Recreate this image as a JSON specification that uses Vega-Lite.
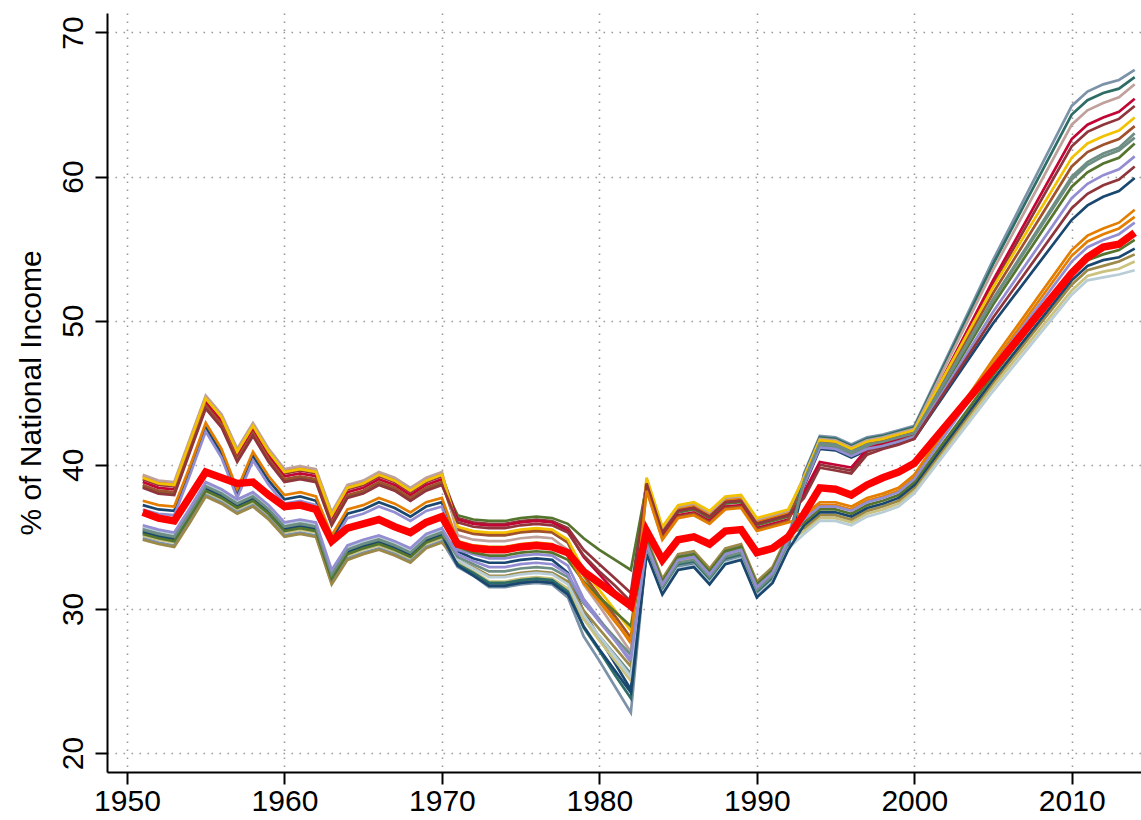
{
  "$schema": "https://vega.github.io/schema/vega-lite/v6.json",
  "width": 1034,
  "height": 759,
  "autosize": "none",
  "padding": {"left": 107, "top": 13, "right": 0, "bottom": 48},
  "background": "white",
  "config": {"view": {"stroke": null}, "font": "Liberation Sans"},
  "data": {"values": [
{"s":"s1","x":1951,"v":37.2},{"s":"s1","x":1952,"v":36.9},{"s":"s1","x":1953,"v":36.8},{"s":"s1","x":1954,"v":39.6},{"s":"s1","x":1955,"v":42.6},{"s":"s1","x":1956,"v":40.8},{"s":"s1","x":1957,"v":38.0},{"s":"s1","x":1958,"v":40.6},{"s":"s1","x":1959,"v":38.9},{"s":"s1","x":1960,"v":37.6},{"s":"s1","x":1961,"v":37.8},{"s":"s1","x":1962,"v":37.5},{"s":"s1","x":1963,"v":34.8},{"s":"s1","x":1964,"v":36.6},{"s":"s1","x":1965,"v":36.9},{"s":"s1","x":1966,"v":37.4},{"s":"s1","x":1967,"v":37.0},{"s":"s1","x":1968,"v":36.4},{"s":"s1","x":1969,"v":37.1},{"s":"s1","x":1970,"v":37.4},
{"s":"s1","x":1971,"v":34.0},{"s":"s1","x":1972,"v":33.5},{"s":"s1","x":1973,"v":33.2},{"s":"s1","x":1974,"v":33.2},{"s":"s1","x":1975,"v":33.4},{"s":"s1","x":1976,"v":33.5},{"s":"s1","x":1977,"v":33.4},{"s":"s1","x":1978,"v":32.5},{"s":"s1","x":1979,"v":29.8},{"s":"s1","x":1980,"v":28.0},{"s":"s1","x":1981,"v":26.2},{"s":"s1","x":1982,"v":24.4},
{"s":"s1","x":1983,"v":34.0},{"s":"s1","x":1984,"v":31.2},{"s":"s1","x":1985,"v":32.9},{"s":"s1","x":1986,"v":33.1},{"s":"s1","x":1987,"v":31.9},{"s":"s1","x":1988,"v":33.3},{"s":"s1","x":1989,"v":33.6},{"s":"s1","x":1990,"v":31.0},{"s":"s1","x":1991,"v":32.0},{"s":"s1","x":1992,"v":34.3},
{"s":"s1","x":1993,"v":38.5},{"s":"s1","x":1994,"v":41.1},{"s":"s1","x":1995,"v":41.0},{"s":"s1","x":1996,"v":40.5},{"s":"s1","x":1997,"v":41.0},{"s":"s1","x":1998,"v":41.2},{"s":"s1","x":1999,"v":41.5},{"s":"s1","x":2000,"v":41.8},
{"s":"s1","x":2005,"v":49.8},{"s":"s1","x":2010,"v":57.0},{"s":"s1","x":2011,"v":58.0},{"s":"s1","x":2012,"v":58.6},{"s":"s1","x":2013,"v":59.0},{"s":"s1","x":2014,"v":59.9},

{"s":"s2","x":1951,"v":39.0},{"s":"s2","x":1952,"v":38.6},{"s":"s2","x":1953,"v":38.5},{"s":"s2","x":1954,"v":41.5},{"s":"s2","x":1955,"v":44.5},{"s":"s2","x":1956,"v":43.2},{"s":"s2","x":1957,"v":40.8},{"s":"s2","x":1958,"v":42.6},{"s":"s2","x":1959,"v":40.8},{"s":"s2","x":1960,"v":39.4},{"s":"s2","x":1961,"v":39.6},{"s":"s2","x":1962,"v":39.4},{"s":"s2","x":1963,"v":36.4},{"s":"s2","x":1964,"v":38.3},{"s":"s2","x":1965,"v":38.6},{"s":"s2","x":1966,"v":39.2},{"s":"s2","x":1967,"v":38.8},{"s":"s2","x":1968,"v":38.1},{"s":"s2","x":1969,"v":38.8},{"s":"s2","x":1970,"v":39.2},
{"s":"s2","x":1971,"v":36.3},{"s":"s2","x":1972,"v":36.0},{"s":"s2","x":1973,"v":35.9},{"s":"s2","x":1974,"v":35.9},{"s":"s2","x":1975,"v":36.1},{"s":"s2","x":1976,"v":36.2},{"s":"s2","x":1977,"v":36.1},{"s":"s2","x":1978,"v":35.6},{"s":"s2","x":1979,"v":34.1},{"s":"s2","x":1980,"v":33.1},{"s":"s2","x":1981,"v":32.1},{"s":"s2","x":1982,"v":31.1},
{"s":"s2","x":1983,"v":38.8},{"s":"s2","x":1984,"v":35.4},{"s":"s2","x":1985,"v":36.9},{"s":"s2","x":1986,"v":37.1},{"s":"s2","x":1987,"v":36.5},{"s":"s2","x":1988,"v":37.5},{"s":"s2","x":1989,"v":37.6},{"s":"s2","x":1990,"v":36.0},{"s":"s2","x":1991,"v":36.3},{"s":"s2","x":1992,"v":36.6},
{"s":"s2","x":1993,"v":37.9},{"s":"s2","x":1994,"v":40.0},{"s":"s2","x":1995,"v":39.8},{"s":"s2","x":1996,"v":39.6},{"s":"s2","x":1997,"v":40.9},{"s":"s2","x":1998,"v":41.3},{"s":"s2","x":1999,"v":41.6},{"s":"s2","x":2000,"v":42.0},
{"s":"s2","x":2005,"v":52.5},{"s":"s2","x":2010,"v":62.1},{"s":"s2","x":2011,"v":63.1},{"s":"s2","x":2012,"v":63.6},{"s":"s2","x":2013,"v":64.0},{"s":"s2","x":2014,"v":64.9},

{"s":"s3","x":1951,"v":38.5},{"s":"s3","x":1952,"v":38.1},{"s":"s3","x":1953,"v":38.0},{"s":"s3","x":1954,"v":41.0},{"s":"s3","x":1955,"v":44.0},{"s":"s3","x":1956,"v":42.7},{"s":"s3","x":1957,"v":40.3},{"s":"s3","x":1958,"v":42.1},{"s":"s3","x":1959,"v":40.3},{"s":"s3","x":1960,"v":38.9},{"s":"s3","x":1961,"v":39.1},{"s":"s3","x":1962,"v":38.9},{"s":"s3","x":1963,"v":35.9},{"s":"s3","x":1964,"v":37.8},{"s":"s3","x":1965,"v":38.1},{"s":"s3","x":1966,"v":38.7},{"s":"s3","x":1967,"v":38.3},{"s":"s3","x":1968,"v":37.6},{"s":"s3","x":1969,"v":38.3},{"s":"s3","x":1970,"v":38.7},
{"s":"s3","x":1971,"v":36.5},{"s":"s3","x":1972,"v":36.2},{"s":"s3","x":1973,"v":36.1},{"s":"s3","x":1974,"v":36.1},{"s":"s3","x":1975,"v":36.3},{"s":"s3","x":1976,"v":36.4},{"s":"s3","x":1977,"v":36.3},{"s":"s3","x":1978,"v":35.9},{"s":"s3","x":1979,"v":34.9},{"s":"s3","x":1980,"v":34.1},{"s":"s3","x":1981,"v":33.4},{"s":"s3","x":1982,"v":32.7},
{"s":"s3","x":1983,"v":38.6},{"s":"s3","x":1984,"v":35.2},{"s":"s3","x":1985,"v":36.7},{"s":"s3","x":1986,"v":36.9},{"s":"s3","x":1987,"v":36.3},{"s":"s3","x":1988,"v":37.3},{"s":"s3","x":1989,"v":37.4},{"s":"s3","x":1990,"v":35.8},{"s":"s3","x":1991,"v":36.1},{"s":"s3","x":1992,"v":36.4},
{"s":"s3","x":1993,"v":38.7},{"s":"s3","x":1994,"v":41.3},{"s":"s3","x":1995,"v":41.2},{"s":"s3","x":1996,"v":40.7},{"s":"s3","x":1997,"v":41.2},{"s":"s3","x":1998,"v":41.4},{"s":"s3","x":1999,"v":41.7},{"s":"s3","x":2000,"v":42.0},
{"s":"s3","x":2005,"v":51.1},{"s":"s3","x":2010,"v":59.3},{"s":"s3","x":2011,"v":60.3},{"s":"s3","x":2012,"v":60.9},{"s":"s3","x":2013,"v":61.3},{"s":"s3","x":2014,"v":62.3},

{"s":"s4","x":1951,"v":39.2},{"s":"s4","x":1952,"v":38.8},{"s":"s4","x":1953,"v":38.7},{"s":"s4","x":1954,"v":41.7},{"s":"s4","x":1955,"v":44.7},{"s":"s4","x":1956,"v":43.4},{"s":"s4","x":1957,"v":41.0},{"s":"s4","x":1958,"v":42.8},{"s":"s4","x":1959,"v":41.0},{"s":"s4","x":1960,"v":39.6},{"s":"s4","x":1961,"v":39.8},{"s":"s4","x":1962,"v":39.6},{"s":"s4","x":1963,"v":36.6},{"s":"s4","x":1964,"v":38.5},{"s":"s4","x":1965,"v":38.8},{"s":"s4","x":1966,"v":39.4},{"s":"s4","x":1967,"v":39.0},{"s":"s4","x":1968,"v":38.3},{"s":"s4","x":1969,"v":39.0},{"s":"s4","x":1970,"v":39.4},
{"s":"s4","x":1971,"v":35.6},{"s":"s4","x":1972,"v":35.3},{"s":"s4","x":1973,"v":35.2},{"s":"s4","x":1974,"v":35.2},{"s":"s4","x":1975,"v":35.4},{"s":"s4","x":1976,"v":35.5},{"s":"s4","x":1977,"v":35.4},{"s":"s4","x":1978,"v":34.6},{"s":"s4","x":1979,"v":32.3},{"s":"s4","x":1980,"v":30.7},{"s":"s4","x":1981,"v":29.2},{"s":"s4","x":1982,"v":27.6},
{"s":"s4","x":1983,"v":38.9},{"s":"s4","x":1984,"v":35.5},{"s":"s4","x":1985,"v":37.0},{"s":"s4","x":1986,"v":37.2},{"s":"s4","x":1987,"v":36.6},{"s":"s4","x":1988,"v":37.6},{"s":"s4","x":1989,"v":37.7},{"s":"s4","x":1990,"v":36.1},{"s":"s4","x":1991,"v":36.4},{"s":"s4","x":1992,"v":36.7},
{"s":"s4","x":1993,"v":36.5},{"s":"s4","x":1994,"v":37.4},{"s":"s4","x":1995,"v":37.4},{"s":"s4","x":1996,"v":37.1},{"s":"s4","x":1997,"v":37.7},{"s":"s4","x":1998,"v":38.0},{"s":"s4","x":1999,"v":38.4},{"s":"s4","x":2000,"v":39.3},
{"s":"s4","x":2005,"v":47.3},{"s":"s4","x":2010,"v":54.9},{"s":"s4","x":2011,"v":55.9},{"s":"s4","x":2012,"v":56.4},{"s":"s4","x":2013,"v":56.8},{"s":"s4","x":2014,"v":57.7},

{"s":"s5","x":1951,"v":35.6},{"s":"s5","x":1952,"v":35.3},{"s":"s5","x":1953,"v":35.1},{"s":"s5","x":1954,"v":36.8},{"s":"s5","x":1955,"v":38.6},{"s":"s5","x":1956,"v":38.1},{"s":"s5","x":1957,"v":37.4},{"s":"s5","x":1958,"v":37.9},{"s":"s5","x":1959,"v":37.0},{"s":"s5","x":1960,"v":35.8},{"s":"s5","x":1961,"v":36.0},{"s":"s5","x":1962,"v":35.8},{"s":"s5","x":1963,"v":32.5},{"s":"s5","x":1964,"v":34.2},{"s":"s5","x":1965,"v":34.6},{"s":"s5","x":1966,"v":34.9},{"s":"s5","x":1967,"v":34.5},{"s":"s5","x":1968,"v":34.0},{"s":"s5","x":1969,"v":35.0},{"s":"s5","x":1970,"v":35.4},
{"s":"s5","x":1971,"v":33.1},{"s":"s5","x":1972,"v":32.4},{"s":"s5","x":1973,"v":31.7},{"s":"s5","x":1974,"v":31.7},{"s":"s5","x":1975,"v":31.9},{"s":"s5","x":1976,"v":32.0},{"s":"s5","x":1977,"v":31.9},{"s":"s5","x":1978,"v":31.3},{"s":"s5","x":1979,"v":29.3},{"s":"s5","x":1980,"v":28.1},{"s":"s5","x":1981,"v":26.8},{"s":"s5","x":1982,"v":25.5},
{"s":"s5","x":1983,"v":34.6},{"s":"s5","x":1984,"v":31.8},{"s":"s5","x":1985,"v":33.5},{"s":"s5","x":1986,"v":33.7},{"s":"s5","x":1987,"v":32.5},{"s":"s5","x":1988,"v":33.9},{"s":"s5","x":1989,"v":34.2},{"s":"s5","x":1990,"v":31.6},{"s":"s5","x":1991,"v":32.6},{"s":"s5","x":1992,"v":34.9},
{"s":"s5","x":1993,"v":38.8},{"s":"s5","x":1994,"v":41.4},{"s":"s5","x":1995,"v":41.3},{"s":"s5","x":1996,"v":40.8},{"s":"s5","x":1997,"v":41.3},{"s":"s5","x":1998,"v":41.5},{"s":"s5","x":1999,"v":41.8},{"s":"s5","x":2000,"v":42.1},
{"s":"s5","x":2005,"v":51.4},{"s":"s5","x":2010,"v":59.8},{"s":"s5","x":2011,"v":60.8},{"s":"s5","x":2012,"v":61.4},{"s":"s5","x":2013,"v":61.8},{"s":"s5","x":2014,"v":62.7},

{"s":"s6","x":1951,"v":38.8},{"s":"s6","x":1952,"v":38.4},{"s":"s6","x":1953,"v":38.3},{"s":"s6","x":1954,"v":41.3},{"s":"s6","x":1955,"v":44.3},{"s":"s6","x":1956,"v":43.0},{"s":"s6","x":1957,"v":40.6},{"s":"s6","x":1958,"v":42.4},{"s":"s6","x":1959,"v":40.6},{"s":"s6","x":1960,"v":39.2},{"s":"s6","x":1961,"v":39.4},{"s":"s6","x":1962,"v":39.2},{"s":"s6","x":1963,"v":36.2},{"s":"s6","x":1964,"v":38.1},{"s":"s6","x":1965,"v":38.4},{"s":"s6","x":1966,"v":39.0},{"s":"s6","x":1967,"v":38.6},{"s":"s6","x":1968,"v":37.9},{"s":"s6","x":1969,"v":38.6},{"s":"s6","x":1970,"v":39.0},
{"s":"s6","x":1971,"v":36.2},{"s":"s6","x":1972,"v":35.9},{"s":"s6","x":1973,"v":35.8},{"s":"s6","x":1974,"v":35.8},{"s":"s6","x":1975,"v":36.0},{"s":"s6","x":1976,"v":36.1},{"s":"s6","x":1977,"v":36.0},{"s":"s6","x":1978,"v":35.4},{"s":"s6","x":1979,"v":33.6},{"s":"s6","x":1980,"v":32.4},{"s":"s6","x":1981,"v":31.2},{"s":"s6","x":1982,"v":30.0},
{"s":"s6","x":1983,"v":38.4},{"s":"s6","x":1984,"v":35.0},{"s":"s6","x":1985,"v":36.5},{"s":"s6","x":1986,"v":36.7},{"s":"s6","x":1987,"v":36.1},{"s":"s6","x":1988,"v":37.1},{"s":"s6","x":1989,"v":37.2},{"s":"s6","x":1990,"v":35.6},{"s":"s6","x":1991,"v":35.9},{"s":"s6","x":1992,"v":36.2},
{"s":"s6","x":1993,"v":38.1},{"s":"s6","x":1994,"v":40.2},{"s":"s6","x":1995,"v":40.0},{"s":"s6","x":1996,"v":39.8},{"s":"s6","x":1997,"v":41.1},{"s":"s6","x":1998,"v":41.5},{"s":"s6","x":1999,"v":41.8},{"s":"s6","x":2000,"v":42.2},
{"s":"s6","x":2005,"v":52.8},{"s":"s6","x":2010,"v":62.6},{"s":"s6","x":2011,"v":63.6},{"s":"s6","x":2012,"v":64.1},{"s":"s6","x":2013,"v":64.5},{"s":"s6","x":2014,"v":65.4},

{"s":"s7","x":1951,"v":36.9},{"s":"s7","x":1952,"v":36.6},{"s":"s7","x":1953,"v":36.5},{"s":"s7","x":1954,"v":39.3},{"s":"s7","x":1955,"v":42.3},{"s":"s7","x":1956,"v":40.5},{"s":"s7","x":1957,"v":37.7},{"s":"s7","x":1958,"v":40.3},{"s":"s7","x":1959,"v":38.6},{"s":"s7","x":1960,"v":37.3},{"s":"s7","x":1961,"v":37.5},{"s":"s7","x":1962,"v":37.2},{"s":"s7","x":1963,"v":34.5},{"s":"s7","x":1964,"v":36.3},{"s":"s7","x":1965,"v":36.6},{"s":"s7","x":1966,"v":37.1},{"s":"s7","x":1967,"v":36.7},{"s":"s7","x":1968,"v":36.1},{"s":"s7","x":1969,"v":36.8},{"s":"s7","x":1970,"v":37.1},
{"s":"s7","x":1971,"v":34.1},{"s":"s7","x":1972,"v":33.8},{"s":"s7","x":1973,"v":33.5},{"s":"s7","x":1974,"v":33.5},{"s":"s7","x":1975,"v":33.7},{"s":"s7","x":1976,"v":33.8},{"s":"s7","x":1977,"v":33.7},{"s":"s7","x":1978,"v":33.0},{"s":"s7","x":1979,"v":30.7},{"s":"s7","x":1980,"v":29.3},{"s":"s7","x":1981,"v":27.8},{"s":"s7","x":1982,"v":26.3},
{"s":"s7","x":1983,"v":34.8},{"s":"s7","x":1984,"v":32.0},{"s":"s7","x":1985,"v":33.7},{"s":"s7","x":1986,"v":33.9},{"s":"s7","x":1987,"v":32.7},{"s":"s7","x":1988,"v":34.1},{"s":"s7","x":1989,"v":34.4},{"s":"s7","x":1990,"v":31.8},{"s":"s7","x":1991,"v":32.8},{"s":"s7","x":1992,"v":35.1},
{"s":"s7","x":1993,"v":38.6},{"s":"s7","x":1994,"v":41.2},{"s":"s7","x":1995,"v":41.1},{"s":"s7","x":1996,"v":40.6},{"s":"s7","x":1997,"v":41.1},{"s":"s7","x":1998,"v":41.3},{"s":"s7","x":1999,"v":41.6},{"s":"s7","x":2000,"v":41.9},
{"s":"s7","x":2005,"v":50.6},{"s":"s7","x":2010,"v":58.5},{"s":"s7","x":2011,"v":59.5},{"s":"s7","x":2012,"v":60.1},{"s":"s7","x":2013,"v":60.5},{"s":"s7","x":2014,"v":61.4},

{"s":"s8","x":1951,"v":35.1},{"s":"s8","x":1952,"v":34.8},{"s":"s8","x":1953,"v":34.6},{"s":"s8","x":1954,"v":36.3},{"s":"s8","x":1955,"v":38.1},{"s":"s8","x":1956,"v":37.6},{"s":"s8","x":1957,"v":36.9},{"s":"s8","x":1958,"v":37.4},{"s":"s8","x":1959,"v":36.5},{"s":"s8","x":1960,"v":35.3},{"s":"s8","x":1961,"v":35.5},{"s":"s8","x":1962,"v":35.3},{"s":"s8","x":1963,"v":32.0},{"s":"s8","x":1964,"v":33.7},{"s":"s8","x":1965,"v":34.1},{"s":"s8","x":1966,"v":34.4},{"s":"s8","x":1967,"v":34.0},{"s":"s8","x":1968,"v":33.5},{"s":"s8","x":1969,"v":34.5},{"s":"s8","x":1970,"v":34.9},
{"s":"s8","x":1971,"v":33.2},{"s":"s8","x":1972,"v":32.6},{"s":"s8","x":1973,"v":31.9},{"s":"s8","x":1974,"v":31.9},{"s":"s8","x":1975,"v":32.1},{"s":"s8","x":1976,"v":32.2},{"s":"s8","x":1977,"v":32.1},{"s":"s8","x":1978,"v":31.4},{"s":"s8","x":1979,"v":29.3},{"s":"s8","x":1980,"v":27.8},{"s":"s8","x":1981,"v":26.4},{"s":"s8","x":1982,"v":25.0},
{"s":"s8","x":1983,"v":34.4},{"s":"s8","x":1984,"v":31.6},{"s":"s8","x":1985,"v":33.3},{"s":"s8","x":1986,"v":33.5},{"s":"s8","x":1987,"v":32.3},{"s":"s8","x":1988,"v":33.7},{"s":"s8","x":1989,"v":34.0},{"s":"s8","x":1990,"v":31.4},{"s":"s8","x":1991,"v":32.4},{"s":"s8","x":1992,"v":34.7},
{"s":"s8","x":1993,"v":35.4},{"s":"s8","x":1994,"v":36.3},{"s":"s8","x":1995,"v":36.3},{"s":"s8","x":1996,"v":36.0},{"s":"s8","x":1997,"v":36.6},{"s":"s8","x":1998,"v":36.9},{"s":"s8","x":1999,"v":37.3},{"s":"s8","x":2000,"v":38.2},
{"s":"s8","x":2005,"v":45.4},{"s":"s8","x":2010,"v":52.1},{"s":"s8","x":2011,"v":53.1},{"s":"s8","x":2012,"v":53.4},{"s":"s8","x":2013,"v":53.6},{"s":"s8","x":2014,"v":54.1},

{"s":"s9","x":1951,"v":38.6},{"s":"s9","x":1952,"v":38.2},{"s":"s9","x":1953,"v":38.1},{"s":"s9","x":1954,"v":41.1},{"s":"s9","x":1955,"v":44.1},{"s":"s9","x":1956,"v":42.8},{"s":"s9","x":1957,"v":40.4},{"s":"s9","x":1958,"v":42.2},{"s":"s9","x":1959,"v":40.4},{"s":"s9","x":1960,"v":39.0},{"s":"s9","x":1961,"v":39.2},{"s":"s9","x":1962,"v":39.0},{"s":"s9","x":1963,"v":36.0},{"s":"s9","x":1964,"v":37.9},{"s":"s9","x":1965,"v":38.2},{"s":"s9","x":1966,"v":38.8},{"s":"s9","x":1967,"v":38.4},{"s":"s9","x":1968,"v":37.7},{"s":"s9","x":1969,"v":38.4},{"s":"s9","x":1970,"v":38.8},
{"s":"s9","x":1971,"v":35.5},{"s":"s9","x":1972,"v":35.2},{"s":"s9","x":1973,"v":35.1},{"s":"s9","x":1974,"v":35.1},{"s":"s9","x":1975,"v":35.3},{"s":"s9","x":1976,"v":35.4},{"s":"s9","x":1977,"v":35.3},{"s":"s9","x":1978,"v":34.6},{"s":"s9","x":1979,"v":32.4},{"s":"s9","x":1980,"v":30.9},{"s":"s9","x":1981,"v":29.5},{"s":"s9","x":1982,"v":28.0},
{"s":"s9","x":1983,"v":38.3},{"s":"s9","x":1984,"v":34.9},{"s":"s9","x":1985,"v":36.4},{"s":"s9","x":1986,"v":36.6},{"s":"s9","x":1987,"v":36.0},{"s":"s9","x":1988,"v":37.0},{"s":"s9","x":1989,"v":37.1},{"s":"s9","x":1990,"v":35.5},{"s":"s9","x":1991,"v":35.8},{"s":"s9","x":1992,"v":36.1},
{"s":"s9","x":1993,"v":39.0},{"s":"s9","x":1994,"v":41.6},{"s":"s9","x":1995,"v":41.5},{"s":"s9","x":1996,"v":41.0},{"s":"s9","x":1997,"v":41.5},{"s":"s9","x":1998,"v":41.7},{"s":"s9","x":1999,"v":42.0},{"s":"s9","x":2000,"v":42.3},
{"s":"s9","x":2005,"v":51.9},{"s":"s9","x":2010,"v":60.7},{"s":"s9","x":2011,"v":61.7},{"s":"s9","x":2012,"v":62.2},{"s":"s9","x":2013,"v":62.6},{"s":"s9","x":2014,"v":63.5},

{"s":"s10","x":1951,"v":34.9},{"s":"s10","x":1952,"v":34.6},{"s":"s10","x":1953,"v":34.4},{"s":"s10","x":1954,"v":36.1},{"s":"s10","x":1955,"v":37.9},{"s":"s10","x":1956,"v":37.4},{"s":"s10","x":1957,"v":36.7},{"s":"s10","x":1958,"v":37.2},{"s":"s10","x":1959,"v":36.3},{"s":"s10","x":1960,"v":35.1},{"s":"s10","x":1961,"v":35.3},{"s":"s10","x":1962,"v":35.1},{"s":"s10","x":1963,"v":31.8},{"s":"s10","x":1964,"v":33.5},{"s":"s10","x":1965,"v":33.9},{"s":"s10","x":1966,"v":34.2},{"s":"s10","x":1967,"v":33.8},{"s":"s10","x":1968,"v":33.3},{"s":"s10","x":1969,"v":34.3},{"s":"s10","x":1970,"v":34.7},
{"s":"s10","x":1971,"v":32.9},{"s":"s10","x":1972,"v":32.3},{"s":"s10","x":1973,"v":31.5},{"s":"s10","x":1974,"v":31.5},{"s":"s10","x":1975,"v":31.7},{"s":"s10","x":1976,"v":31.8},{"s":"s10","x":1977,"v":31.7},{"s":"s10","x":1978,"v":30.8},{"s":"s10","x":1979,"v":28.1},{"s":"s10","x":1980,"v":26.4},{"s":"s10","x":1981,"v":24.6},{"s":"s10","x":1982,"v":22.8},
{"s":"s10","x":1983,"v":34.1},{"s":"s10","x":1984,"v":31.3},{"s":"s10","x":1985,"v":33.0},{"s":"s10","x":1986,"v":33.2},{"s":"s10","x":1987,"v":32.0},{"s":"s10","x":1988,"v":33.4},{"s":"s10","x":1989,"v":33.7},{"s":"s10","x":1990,"v":31.1},{"s":"s10","x":1991,"v":32.1},{"s":"s10","x":1992,"v":34.4},
{"s":"s10","x":1993,"v":39.4},{"s":"s10","x":1994,"v":42.0},{"s":"s10","x":1995,"v":41.9},{"s":"s10","x":1996,"v":41.4},{"s":"s10","x":1997,"v":41.9},{"s":"s10","x":1998,"v":42.1},{"s":"s10","x":1999,"v":42.4},{"s":"s10","x":2000,"v":42.7},
{"s":"s10","x":2005,"v":54.2},{"s":"s10","x":2010,"v":64.9},{"s":"s10","x":2011,"v":65.9},{"s":"s10","x":2012,"v":66.4},{"s":"s10","x":2013,"v":66.7},{"s":"s10","x":2014,"v":67.4},

{"s":"s11","x":1951,"v":35.4},{"s":"s11","x":1952,"v":35.1},{"s":"s11","x":1953,"v":34.9},{"s":"s11","x":1954,"v":36.6},{"s":"s11","x":1955,"v":38.4},{"s":"s11","x":1956,"v":37.9},{"s":"s11","x":1957,"v":37.2},{"s":"s11","x":1958,"v":37.7},{"s":"s11","x":1959,"v":36.8},{"s":"s11","x":1960,"v":35.6},{"s":"s11","x":1961,"v":35.8},{"s":"s11","x":1962,"v":35.6},{"s":"s11","x":1963,"v":32.3},{"s":"s11","x":1964,"v":34.0},{"s":"s11","x":1965,"v":34.4},{"s":"s11","x":1966,"v":34.7},{"s":"s11","x":1967,"v":34.3},{"s":"s11","x":1968,"v":33.8},{"s":"s11","x":1969,"v":34.8},{"s":"s11","x":1970,"v":35.2},
{"s":"s11","x":1971,"v":33.1},{"s":"s11","x":1972,"v":32.5},{"s":"s11","x":1973,"v":31.8},{"s":"s11","x":1974,"v":31.8},{"s":"s11","x":1975,"v":32.0},{"s":"s11","x":1976,"v":32.1},{"s":"s11","x":1977,"v":32.0},{"s":"s11","x":1978,"v":31.2},{"s":"s11","x":1979,"v":28.7},{"s":"s11","x":1980,"v":27.1},{"s":"s11","x":1981,"v":25.4},{"s":"s11","x":1982,"v":23.8},
{"s":"s11","x":1983,"v":34.2},{"s":"s11","x":1984,"v":31.4},{"s":"s11","x":1985,"v":33.1},{"s":"s11","x":1986,"v":33.3},{"s":"s11","x":1987,"v":32.1},{"s":"s11","x":1988,"v":33.5},{"s":"s11","x":1989,"v":33.8},{"s":"s11","x":1990,"v":31.2},{"s":"s11","x":1991,"v":32.2},{"s":"s11","x":1992,"v":34.5},
{"s":"s11","x":1993,"v":39.3},{"s":"s11","x":1994,"v":41.9},{"s":"s11","x":1995,"v":41.8},{"s":"s11","x":1996,"v":41.3},{"s":"s11","x":1997,"v":41.8},{"s":"s11","x":1998,"v":42.0},{"s":"s11","x":1999,"v":42.3},{"s":"s11","x":2000,"v":42.6},
{"s":"s11","x":2005,"v":53.9},{"s":"s11","x":2010,"v":64.3},{"s":"s11","x":2011,"v":65.3},{"s":"s11","x":2012,"v":65.8},{"s":"s11","x":2013,"v":66.1},{"s":"s11","x":2014,"v":66.9},

{"s":"s12","x":1951,"v":34.8},{"s":"s12","x":1952,"v":34.5},{"s":"s12","x":1953,"v":34.3},{"s":"s12","x":1954,"v":36.0},{"s":"s12","x":1955,"v":37.8},{"s":"s12","x":1956,"v":37.3},{"s":"s12","x":1957,"v":36.6},{"s":"s12","x":1958,"v":37.1},{"s":"s12","x":1959,"v":36.2},{"s":"s12","x":1960,"v":35.0},{"s":"s12","x":1961,"v":35.2},{"s":"s12","x":1962,"v":35.0},{"s":"s12","x":1963,"v":31.7},{"s":"s12","x":1964,"v":33.4},{"s":"s12","x":1965,"v":33.8},{"s":"s12","x":1966,"v":34.1},{"s":"s12","x":1967,"v":33.7},{"s":"s12","x":1968,"v":33.2},{"s":"s12","x":1969,"v":34.2},{"s":"s12","x":1970,"v":34.6},
{"s":"s12","x":1971,"v":33.4},{"s":"s12","x":1972,"v":32.9},{"s":"s12","x":1973,"v":32.3},{"s":"s12","x":1974,"v":32.3},{"s":"s12","x":1975,"v":32.5},{"s":"s12","x":1976,"v":32.6},{"s":"s12","x":1977,"v":32.5},{"s":"s12","x":1978,"v":31.9},{"s":"s12","x":1979,"v":29.9},{"s":"s12","x":1980,"v":28.6},{"s":"s12","x":1981,"v":27.3},{"s":"s12","x":1982,"v":26.0},
{"s":"s12","x":1983,"v":34.9},{"s":"s12","x":1984,"v":32.1},{"s":"s12","x":1985,"v":33.8},{"s":"s12","x":1986,"v":34.0},{"s":"s12","x":1987,"v":32.8},{"s":"s12","x":1988,"v":34.2},{"s":"s12","x":1989,"v":34.5},{"s":"s12","x":1990,"v":31.9},{"s":"s12","x":1991,"v":32.9},{"s":"s12","x":1992,"v":35.2},
{"s":"s12","x":1993,"v":35.6},{"s":"s12","x":1994,"v":36.5},{"s":"s12","x":1995,"v":36.5},{"s":"s12","x":1996,"v":36.2},{"s":"s12","x":1997,"v":36.8},{"s":"s12","x":1998,"v":37.1},{"s":"s12","x":1999,"v":37.5},{"s":"s12","x":2000,"v":38.4},
{"s":"s12","x":2005,"v":45.7},{"s":"s12","x":2010,"v":52.5},{"s":"s12","x":2011,"v":53.5},{"s":"s12","x":2012,"v":53.8},{"s":"s12","x":2013,"v":54.1},{"s":"s12","x":2014,"v":54.6},

{"s":"s13","x":1951,"v":39.3},{"s":"s13","x":1952,"v":38.9},{"s":"s13","x":1953,"v":38.8},{"s":"s13","x":1954,"v":41.8},{"s":"s13","x":1955,"v":44.8},{"s":"s13","x":1956,"v":43.5},{"s":"s13","x":1957,"v":41.1},{"s":"s13","x":1958,"v":42.9},{"s":"s13","x":1959,"v":41.1},{"s":"s13","x":1960,"v":39.7},{"s":"s13","x":1961,"v":39.9},{"s":"s13","x":1962,"v":39.7},{"s":"s13","x":1963,"v":36.7},{"s":"s13","x":1964,"v":38.6},{"s":"s13","x":1965,"v":38.9},{"s":"s13","x":1966,"v":39.5},{"s":"s13","x":1967,"v":39.1},{"s":"s13","x":1968,"v":38.4},{"s":"s13","x":1969,"v":39.1},{"s":"s13","x":1970,"v":39.5},
{"s":"s13","x":1971,"v":35.1},{"s":"s13","x":1972,"v":34.8},{"s":"s13","x":1973,"v":34.7},{"s":"s13","x":1974,"v":34.7},{"s":"s13","x":1975,"v":34.9},{"s":"s13","x":1976,"v":35.0},{"s":"s13","x":1977,"v":34.9},{"s":"s13","x":1978,"v":34.1},{"s":"s13","x":1979,"v":31.7},{"s":"s13","x":1980,"v":30.2},{"s":"s13","x":1981,"v":28.6},{"s":"s13","x":1982,"v":27.0},
{"s":"s13","x":1983,"v":39.0},{"s":"s13","x":1984,"v":35.6},{"s":"s13","x":1985,"v":37.1},{"s":"s13","x":1986,"v":37.3},{"s":"s13","x":1987,"v":36.7},{"s":"s13","x":1988,"v":37.7},{"s":"s13","x":1989,"v":37.8},{"s":"s13","x":1990,"v":36.2},{"s":"s13","x":1991,"v":36.5},{"s":"s13","x":1992,"v":36.8},
{"s":"s13","x":1993,"v":39.2},{"s":"s13","x":1994,"v":41.8},{"s":"s13","x":1995,"v":41.7},{"s":"s13","x":1996,"v":41.2},{"s":"s13","x":1997,"v":41.7},{"s":"s13","x":1998,"v":41.9},{"s":"s13","x":1999,"v":42.2},{"s":"s13","x":2000,"v":42.5},
{"s":"s13","x":2005,"v":53.5},{"s":"s13","x":2010,"v":63.6},{"s":"s13","x":2011,"v":64.6},{"s":"s13","x":2012,"v":65.1},{"s":"s13","x":2013,"v":65.5},{"s":"s13","x":2014,"v":66.4},

{"s":"s14","x":1951,"v":39.1},{"s":"s14","x":1952,"v":38.7},{"s":"s14","x":1953,"v":38.6},{"s":"s14","x":1954,"v":41.6},{"s":"s14","x":1955,"v":44.6},{"s":"s14","x":1956,"v":43.3},{"s":"s14","x":1957,"v":40.9},{"s":"s14","x":1958,"v":42.7},{"s":"s14","x":1959,"v":40.9},{"s":"s14","x":1960,"v":39.5},{"s":"s14","x":1961,"v":39.7},{"s":"s14","x":1962,"v":39.5},{"s":"s14","x":1963,"v":36.5},{"s":"s14","x":1964,"v":38.4},{"s":"s14","x":1965,"v":38.7},{"s":"s14","x":1966,"v":39.3},{"s":"s14","x":1967,"v":38.9},{"s":"s14","x":1968,"v":38.2},{"s":"s14","x":1969,"v":38.9},{"s":"s14","x":1970,"v":39.3},
{"s":"s14","x":1971,"v":35.7},{"s":"s14","x":1972,"v":35.4},{"s":"s14","x":1973,"v":35.3},{"s":"s14","x":1974,"v":35.3},{"s":"s14","x":1975,"v":35.5},{"s":"s14","x":1976,"v":35.6},{"s":"s14","x":1977,"v":35.5},{"s":"s14","x":1978,"v":34.8},{"s":"s14","x":1979,"v":32.7},{"s":"s14","x":1980,"v":31.3},{"s":"s14","x":1981,"v":29.9},{"s":"s14","x":1982,"v":28.5},
{"s":"s14","x":1983,"v":39.1},{"s":"s14","x":1984,"v":35.7},{"s":"s14","x":1985,"v":37.2},{"s":"s14","x":1986,"v":37.4},{"s":"s14","x":1987,"v":36.8},{"s":"s14","x":1988,"v":37.8},{"s":"s14","x":1989,"v":37.9},{"s":"s14","x":1990,"v":36.3},{"s":"s14","x":1991,"v":36.6},{"s":"s14","x":1992,"v":36.9},
{"s":"s14","x":1993,"v":39.1},{"s":"s14","x":1994,"v":41.7},{"s":"s14","x":1995,"v":41.6},{"s":"s14","x":1996,"v":41.1},{"s":"s14","x":1997,"v":41.6},{"s":"s14","x":1998,"v":41.8},{"s":"s14","x":1999,"v":42.1},{"s":"s14","x":2000,"v":42.4},
{"s":"s14","x":2005,"v":52.3},{"s":"s14","x":2010,"v":61.3},{"s":"s14","x":2011,"v":62.3},{"s":"s14","x":2012,"v":62.8},{"s":"s14","x":2013,"v":63.2},{"s":"s14","x":2014,"v":64.1},

{"s":"s15","x":1951,"v":35.7},{"s":"s15","x":1952,"v":35.4},{"s":"s15","x":1953,"v":35.2},{"s":"s15","x":1954,"v":36.9},{"s":"s15","x":1955,"v":38.7},{"s":"s15","x":1956,"v":38.2},{"s":"s15","x":1957,"v":37.5},{"s":"s15","x":1958,"v":38.0},{"s":"s15","x":1959,"v":37.1},{"s":"s15","x":1960,"v":35.9},{"s":"s15","x":1961,"v":36.1},{"s":"s15","x":1962,"v":35.9},{"s":"s15","x":1963,"v":32.6},{"s":"s15","x":1964,"v":34.3},{"s":"s15","x":1965,"v":34.7},{"s":"s15","x":1966,"v":35.0},{"s":"s15","x":1967,"v":34.6},{"s":"s15","x":1968,"v":34.1},{"s":"s15","x":1969,"v":35.1},{"s":"s15","x":1970,"v":35.5},
{"s":"s15","x":1971,"v":33.4},{"s":"s15","x":1972,"v":32.8},{"s":"s15","x":1973,"v":32.2},{"s":"s15","x":1974,"v":32.2},{"s":"s15","x":1975,"v":32.4},{"s":"s15","x":1976,"v":32.5},{"s":"s15","x":1977,"v":32.4},{"s":"s15","x":1978,"v":31.7},{"s":"s15","x":1979,"v":29.6},{"s":"s15","x":1980,"v":28.1},{"s":"s15","x":1981,"v":26.7},{"s":"s15","x":1982,"v":25.3},
{"s":"s15","x":1983,"v":33.9},{"s":"s15","x":1984,"v":31.1},{"s":"s15","x":1985,"v":32.8},{"s":"s15","x":1986,"v":33.0},{"s":"s15","x":1987,"v":31.8},{"s":"s15","x":1988,"v":33.2},{"s":"s15","x":1989,"v":33.5},{"s":"s15","x":1990,"v":30.9},{"s":"s15","x":1991,"v":31.9},{"s":"s15","x":1992,"v":34.2},
{"s":"s15","x":1993,"v":35.2},{"s":"s15","x":1994,"v":36.1},{"s":"s15","x":1995,"v":36.1},{"s":"s15","x":1996,"v":35.8},{"s":"s15","x":1997,"v":36.4},{"s":"s15","x":1998,"v":36.7},{"s":"s15","x":1999,"v":37.1},{"s":"s15","x":2000,"v":38.0},
{"s":"s15","x":2005,"v":45.1},{"s":"s15","x":2010,"v":51.8},{"s":"s15","x":2011,"v":52.8},{"s":"s15","x":2012,"v":53.0},{"s":"s15","x":2013,"v":53.2},{"s":"s15","x":2014,"v":53.5},

{"s":"s16","x":1951,"v":35.3},{"s":"s16","x":1952,"v":35.0},{"s":"s16","x":1953,"v":34.8},{"s":"s16","x":1954,"v":36.5},{"s":"s16","x":1955,"v":38.3},{"s":"s16","x":1956,"v":37.8},{"s":"s16","x":1957,"v":37.1},{"s":"s16","x":1958,"v":37.6},{"s":"s16","x":1959,"v":36.7},{"s":"s16","x":1960,"v":35.5},{"s":"s16","x":1961,"v":35.7},{"s":"s16","x":1962,"v":35.5},{"s":"s16","x":1963,"v":32.2},{"s":"s16","x":1964,"v":33.9},{"s":"s16","x":1965,"v":34.3},{"s":"s16","x":1966,"v":34.6},{"s":"s16","x":1967,"v":34.2},{"s":"s16","x":1968,"v":33.7},{"s":"s16","x":1969,"v":34.7},{"s":"s16","x":1970,"v":35.1},
{"s":"s16","x":1971,"v":33.0},{"s":"s16","x":1972,"v":32.3},{"s":"s16","x":1973,"v":31.6},{"s":"s16","x":1974,"v":31.6},{"s":"s16","x":1975,"v":31.8},{"s":"s16","x":1976,"v":31.9},{"s":"s16","x":1977,"v":31.8},{"s":"s16","x":1978,"v":31.0},{"s":"s16","x":1979,"v":28.8},{"s":"s16","x":1980,"v":27.2},{"s":"s16","x":1981,"v":25.7},{"s":"s16","x":1982,"v":24.2},
{"s":"s16","x":1983,"v":33.8},{"s":"s16","x":1984,"v":31.0},{"s":"s16","x":1985,"v":32.7},{"s":"s16","x":1986,"v":32.9},{"s":"s16","x":1987,"v":31.7},{"s":"s16","x":1988,"v":33.1},{"s":"s16","x":1989,"v":33.4},{"s":"s16","x":1990,"v":30.8},{"s":"s16","x":1991,"v":31.8},{"s":"s16","x":1992,"v":34.1},
{"s":"s16","x":1993,"v":35.8},{"s":"s16","x":1994,"v":36.7},{"s":"s16","x":1995,"v":36.7},{"s":"s16","x":1996,"v":36.4},{"s":"s16","x":1997,"v":37.0},{"s":"s16","x":1998,"v":37.3},{"s":"s16","x":1999,"v":37.7},{"s":"s16","x":2000,"v":38.6},
{"s":"s16","x":2005,"v":45.9},{"s":"s16","x":2010,"v":52.8},{"s":"s16","x":2011,"v":53.8},{"s":"s16","x":2012,"v":54.2},{"s":"s16","x":2013,"v":54.4},{"s":"s16","x":2014,"v":55.0},

{"s":"s17","x":1951,"v":38.4},{"s":"s17","x":1952,"v":38.0},{"s":"s17","x":1953,"v":37.9},{"s":"s17","x":1954,"v":40.9},{"s":"s17","x":1955,"v":43.9},{"s":"s17","x":1956,"v":42.6},{"s":"s17","x":1957,"v":40.2},{"s":"s17","x":1958,"v":42.0},{"s":"s17","x":1959,"v":40.2},{"s":"s17","x":1960,"v":38.8},{"s":"s17","x":1961,"v":39.0},{"s":"s17","x":1962,"v":38.8},{"s":"s17","x":1963,"v":35.8},{"s":"s17","x":1964,"v":37.7},{"s":"s17","x":1965,"v":38.0},{"s":"s17","x":1966,"v":38.6},{"s":"s17","x":1967,"v":38.2},{"s":"s17","x":1968,"v":37.5},{"s":"s17","x":1969,"v":38.2},{"s":"s17","x":1970,"v":38.6},
{"s":"s17","x":1971,"v":36.0},{"s":"s17","x":1972,"v":35.7},{"s":"s17","x":1973,"v":35.6},{"s":"s17","x":1974,"v":35.6},{"s":"s17","x":1975,"v":35.8},{"s":"s17","x":1976,"v":35.9},{"s":"s17","x":1977,"v":35.8},{"s":"s17","x":1978,"v":35.3},{"s":"s17","x":1979,"v":33.7},{"s":"s17","x":1980,"v":32.6},{"s":"s17","x":1981,"v":31.6},{"s":"s17","x":1982,"v":30.5},
{"s":"s17","x":1983,"v":38.7},{"s":"s17","x":1984,"v":35.3},{"s":"s17","x":1985,"v":36.8},{"s":"s17","x":1986,"v":37.0},{"s":"s17","x":1987,"v":36.4},{"s":"s17","x":1988,"v":37.4},{"s":"s17","x":1989,"v":37.5},{"s":"s17","x":1990,"v":35.9},{"s":"s17","x":1991,"v":36.2},{"s":"s17","x":1992,"v":36.5},
{"s":"s17","x":1993,"v":37.7},{"s":"s17","x":1994,"v":39.8},{"s":"s17","x":1995,"v":39.6},{"s":"s17","x":1996,"v":39.4},{"s":"s17","x":1997,"v":40.7},{"s":"s17","x":1998,"v":41.1},{"s":"s17","x":1999,"v":41.4},{"s":"s17","x":2000,"v":41.8},
{"s":"s17","x":2005,"v":50.2},{"s":"s17","x":2010,"v":57.8},{"s":"s17","x":2011,"v":58.8},{"s":"s17","x":2012,"v":59.4},{"s":"s17","x":2013,"v":59.8},{"s":"s17","x":2014,"v":60.7},

{"s":"s18","x":1951,"v":35.2},{"s":"s18","x":1952,"v":34.9},{"s":"s18","x":1953,"v":34.7},{"s":"s18","x":1954,"v":36.4},{"s":"s18","x":1955,"v":38.2},{"s":"s18","x":1956,"v":37.7},{"s":"s18","x":1957,"v":37.0},{"s":"s18","x":1958,"v":37.5},{"s":"s18","x":1959,"v":36.6},{"s":"s18","x":1960,"v":35.4},{"s":"s18","x":1961,"v":35.6},{"s":"s18","x":1962,"v":35.4},{"s":"s18","x":1963,"v":32.1},{"s":"s18","x":1964,"v":33.8},{"s":"s18","x":1965,"v":34.2},{"s":"s18","x":1966,"v":34.5},{"s":"s18","x":1967,"v":34.1},{"s":"s18","x":1968,"v":33.6},{"s":"s18","x":1969,"v":34.6},{"s":"s18","x":1970,"v":35.0},
{"s":"s18","x":1971,"v":34.3},{"s":"s18","x":1972,"v":33.9},{"s":"s18","x":1973,"v":33.7},{"s":"s18","x":1974,"v":33.7},{"s":"s18","x":1975,"v":33.9},{"s":"s18","x":1976,"v":34.0},{"s":"s18","x":1977,"v":33.9},{"s":"s18","x":1978,"v":33.4},{"s":"s18","x":1979,"v":31.9},{"s":"s18","x":1980,"v":30.8},{"s":"s18","x":1981,"v":29.8},{"s":"s18","x":1982,"v":28.8},
{"s":"s18","x":1983,"v":34.7},{"s":"s18","x":1984,"v":31.9},{"s":"s18","x":1985,"v":33.6},{"s":"s18","x":1986,"v":33.8},{"s":"s18","x":1987,"v":32.6},{"s":"s18","x":1988,"v":34.0},{"s":"s18","x":1989,"v":34.3},{"s":"s18","x":1990,"v":31.7},{"s":"s18","x":1991,"v":32.7},{"s":"s18","x":1992,"v":35.0},
{"s":"s18","x":1993,"v":36.0},{"s":"s18","x":1994,"v":36.9},{"s":"s18","x":1995,"v":36.9},{"s":"s18","x":1996,"v":36.6},{"s":"s18","x":1997,"v":37.2},{"s":"s18","x":1998,"v":37.5},{"s":"s18","x":1999,"v":37.9},{"s":"s18","x":2000,"v":38.8},
{"s":"s18","x":2005,"v":46.2},{"s":"s18","x":2010,"v":53.2},{"s":"s18","x":2011,"v":54.2},{"s":"s18","x":2012,"v":54.6},{"s":"s18","x":2013,"v":54.9},{"s":"s18","x":2014,"v":55.6},

{"s":"s19","x":1951,"v":37.5},{"s":"s19","x":1952,"v":37.2},{"s":"s19","x":1953,"v":37.1},{"s":"s19","x":1954,"v":39.9},{"s":"s19","x":1955,"v":42.9},{"s":"s19","x":1956,"v":41.1},{"s":"s19","x":1957,"v":38.3},{"s":"s19","x":1958,"v":40.9},{"s":"s19","x":1959,"v":39.2},{"s":"s19","x":1960,"v":37.9},{"s":"s19","x":1961,"v":38.1},{"s":"s19","x":1962,"v":37.8},{"s":"s19","x":1963,"v":35.1},{"s":"s19","x":1964,"v":36.9},{"s":"s19","x":1965,"v":37.2},{"s":"s19","x":1966,"v":37.7},{"s":"s19","x":1967,"v":37.3},{"s":"s19","x":1968,"v":36.7},{"s":"s19","x":1969,"v":37.4},{"s":"s19","x":1970,"v":37.7},
{"s":"s19","x":1971,"v":34.7},{"s":"s19","x":1972,"v":34.4},{"s":"s19","x":1973,"v":34.3},{"s":"s19","x":1974,"v":34.3},{"s":"s19","x":1975,"v":34.5},{"s":"s19","x":1976,"v":34.6},{"s":"s19","x":1977,"v":34.5},{"s":"s19","x":1978,"v":33.8},{"s":"s19","x":1979,"v":31.8},{"s":"s19","x":1980,"v":30.5},{"s":"s19","x":1981,"v":29.1},{"s":"s19","x":1982,"v":27.8},
{"s":"s19","x":1983,"v":38.2},{"s":"s19","x":1984,"v":34.8},{"s":"s19","x":1985,"v":36.3},{"s":"s19","x":1986,"v":36.5},{"s":"s19","x":1987,"v":35.9},{"s":"s19","x":1988,"v":36.9},{"s":"s19","x":1989,"v":37.0},{"s":"s19","x":1990,"v":35.4},{"s":"s19","x":1991,"v":35.7},{"s":"s19","x":1992,"v":36.0},
{"s":"s19","x":1993,"v":36.3},{"s":"s19","x":1994,"v":37.2},{"s":"s19","x":1995,"v":37.2},{"s":"s19","x":1996,"v":36.9},{"s":"s19","x":1997,"v":37.5},{"s":"s19","x":1998,"v":37.8},{"s":"s19","x":1999,"v":38.2},{"s":"s19","x":2000,"v":39.1},
{"s":"s19","x":2005,"v":47.0},{"s":"s19","x":2010,"v":54.5},{"s":"s19","x":2011,"v":55.5},{"s":"s19","x":2012,"v":56.0},{"s":"s19","x":2013,"v":56.4},{"s":"s19","x":2014,"v":57.2},

{"s":"s20","x":1951,"v":35.5},{"s":"s20","x":1952,"v":35.2},{"s":"s20","x":1953,"v":35.0},{"s":"s20","x":1954,"v":36.7},{"s":"s20","x":1955,"v":38.5},{"s":"s20","x":1956,"v":38.0},{"s":"s20","x":1957,"v":37.3},{"s":"s20","x":1958,"v":37.8},{"s":"s20","x":1959,"v":36.9},{"s":"s20","x":1960,"v":35.7},{"s":"s20","x":1961,"v":35.9},{"s":"s20","x":1962,"v":35.7},{"s":"s20","x":1963,"v":32.4},{"s":"s20","x":1964,"v":34.1},{"s":"s20","x":1965,"v":34.5},{"s":"s20","x":1966,"v":34.8},{"s":"s20","x":1967,"v":34.4},{"s":"s20","x":1968,"v":33.9},{"s":"s20","x":1969,"v":34.9},{"s":"s20","x":1970,"v":35.3},
{"s":"s20","x":1971,"v":33.6},{"s":"s20","x":1972,"v":33.1},{"s":"s20","x":1973,"v":32.6},{"s":"s20","x":1974,"v":32.6},{"s":"s20","x":1975,"v":32.8},{"s":"s20","x":1976,"v":32.9},{"s":"s20","x":1977,"v":32.8},{"s":"s20","x":1978,"v":32.2},{"s":"s20","x":1979,"v":30.4},{"s":"s20","x":1980,"v":29.2},{"s":"s20","x":1981,"v":28.0},{"s":"s20","x":1982,"v":26.8},
{"s":"s20","x":1983,"v":34.3},{"s":"s20","x":1984,"v":31.5},{"s":"s20","x":1985,"v":33.2},{"s":"s20","x":1986,"v":33.4},{"s":"s20","x":1987,"v":32.2},{"s":"s20","x":1988,"v":33.6},{"s":"s20","x":1989,"v":33.9},{"s":"s20","x":1990,"v":31.3},{"s":"s20","x":1991,"v":32.3},{"s":"s20","x":1992,"v":34.6},
{"s":"s20","x":1993,"v":38.9},{"s":"s20","x":1994,"v":41.5},{"s":"s20","x":1995,"v":41.4},{"s":"s20","x":1996,"v":40.9},{"s":"s20","x":1997,"v":41.4},{"s":"s20","x":1998,"v":41.6},{"s":"s20","x":1999,"v":41.9},{"s":"s20","x":2000,"v":42.2},
{"s":"s20","x":2005,"v":51.5},{"s":"s20","x":2010,"v":60.0},{"s":"s20","x":2011,"v":61.0},{"s":"s20","x":2012,"v":61.6},{"s":"s20","x":2013,"v":62.0},{"s":"s20","x":2014,"v":63.0},

{"s":"s21","x":1951,"v":35.8},{"s":"s21","x":1952,"v":35.5},{"s":"s21","x":1953,"v":35.3},{"s":"s21","x":1954,"v":37.0},{"s":"s21","x":1955,"v":38.8},{"s":"s21","x":1956,"v":38.3},{"s":"s21","x":1957,"v":37.6},{"s":"s21","x":1958,"v":38.1},{"s":"s21","x":1959,"v":37.2},{"s":"s21","x":1960,"v":36.0},{"s":"s21","x":1961,"v":36.2},{"s":"s21","x":1962,"v":36.0},{"s":"s21","x":1963,"v":32.7},{"s":"s21","x":1964,"v":34.4},{"s":"s21","x":1965,"v":34.8},{"s":"s21","x":1966,"v":35.1},{"s":"s21","x":1967,"v":34.7},{"s":"s21","x":1968,"v":34.2},{"s":"s21","x":1969,"v":35.2},{"s":"s21","x":1970,"v":35.6},
{"s":"s21","x":1971,"v":33.8},{"s":"s21","x":1972,"v":33.3},{"s":"s21","x":1973,"v":32.9},{"s":"s21","x":1974,"v":32.9},{"s":"s21","x":1975,"v":33.1},{"s":"s21","x":1976,"v":33.2},{"s":"s21","x":1977,"v":33.1},{"s":"s21","x":1978,"v":32.4},{"s":"s21","x":1979,"v":30.5},{"s":"s21","x":1980,"v":29.1},{"s":"s21","x":1981,"v":27.8},{"s":"s21","x":1982,"v":26.5},
{"s":"s21","x":1983,"v":34.5},{"s":"s21","x":1984,"v":31.7},{"s":"s21","x":1985,"v":33.4},{"s":"s21","x":1986,"v":33.6},{"s":"s21","x":1987,"v":32.4},{"s":"s21","x":1988,"v":33.8},{"s":"s21","x":1989,"v":34.1},{"s":"s21","x":1990,"v":31.5},{"s":"s21","x":1991,"v":32.5},{"s":"s21","x":1992,"v":34.8},
{"s":"s21","x":1993,"v":36.2},{"s":"s21","x":1994,"v":37.1},{"s":"s21","x":1995,"v":37.1},{"s":"s21","x":1996,"v":36.8},{"s":"s21","x":1997,"v":37.4},{"s":"s21","x":1998,"v":37.7},{"s":"s21","x":1999,"v":38.1},{"s":"s21","x":2000,"v":39.0},
{"s":"s21","x":2005,"v":46.8},{"s":"s21","x":2010,"v":54.1},{"s":"s21","x":2011,"v":55.1},{"s":"s21","x":2012,"v":55.6},{"s":"s21","x":2013,"v":56.0},{"s":"s21","x":2014,"v":56.8},

{"s":"R","x":1951,"v":36.7},{"s":"R","x":1952,"v":36.3},{"s":"R","x":1953,"v":36.1},{"s":"R","x":1954,"v":37.8},{"s":"R","x":1955,"v":39.5},{"s":"R","x":1956,"v":39.1},{"s":"R","x":1957,"v":38.7},{"s":"R","x":1958,"v":38.8},{"s":"R","x":1959,"v":37.9},{"s":"R","x":1960,"v":37.1},{"s":"R","x":1961,"v":37.2},{"s":"R","x":1962,"v":36.9},{"s":"R","x":1963,"v":34.7},{"s":"R","x":1964,"v":35.6},{"s":"R","x":1965,"v":35.9},{"s":"R","x":1966,"v":36.2},{"s":"R","x":1967,"v":35.7},{"s":"R","x":1968,"v":35.3},{"s":"R","x":1969,"v":36.0},{"s":"R","x":1970,"v":36.4},
{"s":"R","x":1971,"v":34.5},{"s":"R","x":1972,"v":34.2},{"s":"R","x":1973,"v":34.1},{"s":"R","x":1974,"v":34.1},{"s":"R","x":1975,"v":34.3},{"s":"R","x":1976,"v":34.4},{"s":"R","x":1977,"v":34.3},{"s":"R","x":1978,"v":33.9},{"s":"R","x":1979,"v":32.6},{"s":"R","x":1980,"v":31.8},{"s":"R","x":1981,"v":31.0},{"s":"R","x":1982,"v":30.2},
{"s":"R","x":1983,"v":35.4},{"s":"R","x":1984,"v":33.4},{"s":"R","x":1985,"v":34.8},{"s":"R","x":1986,"v":35.0},{"s":"R","x":1987,"v":34.5},{"s":"R","x":1988,"v":35.4},{"s":"R","x":1989,"v":35.5},{"s":"R","x":1990,"v":33.9},{"s":"R","x":1991,"v":34.2},{"s":"R","x":1992,"v":35.0},
{"s":"R","x":1993,"v":36.6},{"s":"R","x":1994,"v":38.4},{"s":"R","x":1995,"v":38.3},{"s":"R","x":1996,"v":37.9},{"s":"R","x":1997,"v":38.6},{"s":"R","x":1998,"v":39.1},{"s":"R","x":1999,"v":39.5},{"s":"R","x":2000,"v":40.1},
{"s":"R","x":2005,"v":46.6},{"s":"R","x":2010,"v":53.3},{"s":"R","x":2011,"v":54.4},{"s":"R","x":2012,"v":55.1},{"s":"R","x":2013,"v":55.3},{"s":"R","x":2014,"v":56.1}
  ]},
  "encoding": {
    "x": {
      "field": "x", "type": "quantitative",
      "scale": {"domain": [1948.73, 2014.4], "nice": false, "zero": false},
      "axis": {
        "values": [1950, 1960, 1970, 1980, 1990, 2000, 2010],
        "format": "d", "title": null,
        "domainColor": "#000000", "domainWidth": 2,
        "tickColor": "#000000", "tickWidth": 2, "tickSize": 12,
        "labelFontSize": 30, "labelColor": "#000000", "labelPadding": 2,
        "labelFlush": false, "labelOverlap": false,
        "grid": true, "gridColor": "#9a9a9a", "gridDash": [1.6, 6.4], "gridWidth": 1.6
      }
    },
    "y": {
      "field": "v", "type": "quantitative",
      "scale": {"domain": [18.68, 71.35], "nice": false, "zero": false},
      "axis": {
        "values": [20, 30, 40, 50, 60, 70],
        "title": "% of National Income",
        "titleFontSize": 30, "titleFontWeight": "normal", "titleColor": "#000000", "titlePadding": 12,
        "domainColor": "#000000", "domainWidth": 2,
        "tickColor": "#000000", "tickWidth": 2, "tickSize": 12,
        "labelFontSize": 30, "labelColor": "#000000", "labelAngle": -90,
        "labelAlign": "center", "labelBaseline": "bottom", "labelPadding": 7,
        "labelOverlap": false,
        "grid": true, "gridColor": "#9a9a9a", "gridDash": [1.6, 6.4], "gridWidth": 1.6
      }
    }
  },
  "layer": [
    {
      "transform": [{"filter": "datum.s !== 'R'"}],
      "mark": {"type": "line", "strokeWidth": 2.7, "clip": true},
      "encoding": {
        "color": {
          "field": "s", "type": "nominal", "legend": null,
          "scale": {
            "domain": ["s1","s2","s3","s4","s5","s6","s7","s8","s9","s10","s11","s12","s13","s14","s15","s16","s17","s18","s19","s20","s21"],
            "range": ["#1a476f","#90353b","#55752f","#e37e00","#6e8e84","#c10534","#938dd2","#cac27e","#a0522d","#7b92a8","#2d6d66","#9c8847","#bfa19c","#f2c200","#b8cdd6","#1a476f","#90353b","#55752f","#e37e00","#6e8e84","#938dd2"]
          }
        }
      }
    },
    {
      "transform": [{"filter": "datum.s === 'R'"}],
      "mark": {"type": "line", "strokeWidth": 7.5, "color": "#ff0000", "clip": true}
    }
  ]
}
